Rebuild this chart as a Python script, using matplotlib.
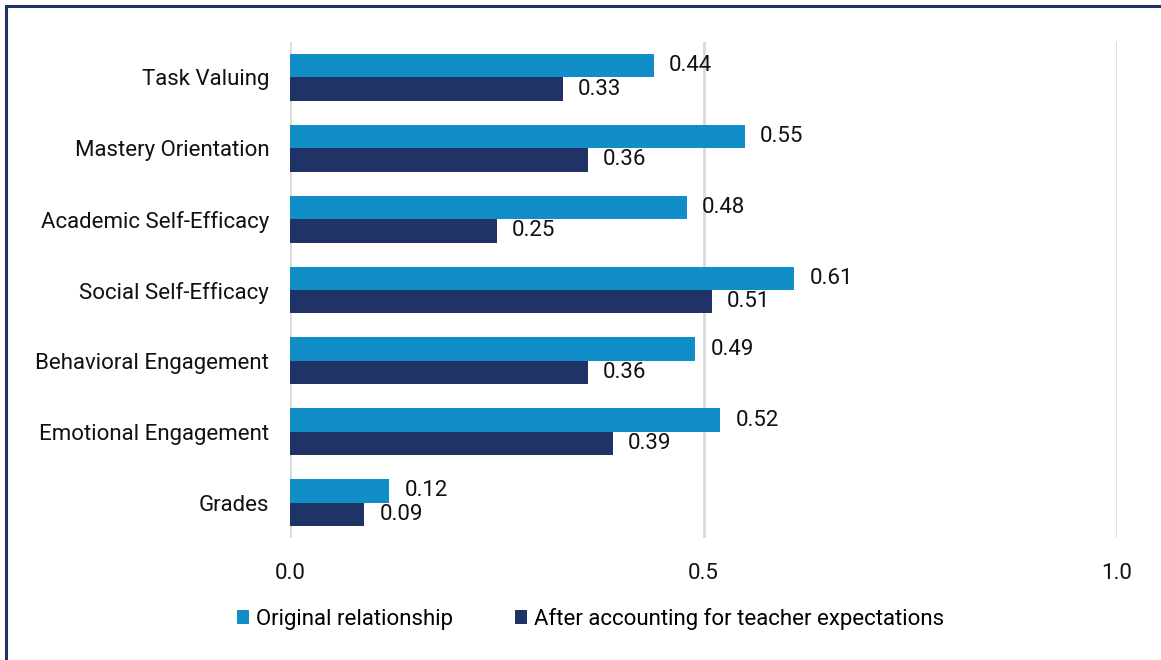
import numpy as np
import matplotlib.pyplot as plt
from matplotlib.patches import Rectangle

plt.rcParams['font.family'] = ['Roboto', 'DejaVu Sans']

categories = ["Task Valuing", "Mastery Orientation", "Academic Self-Efficacy",
              "Social Self-Efficacy", "Behavioral Engagement",
              "Emotional Engagement", "Grades"]
original = [0.44, 0.55, 0.48, 0.61, 0.49, 0.52, 0.12]
adjusted = [0.33, 0.36, 0.25, 0.51, 0.36, 0.39, 0.09]
series_names = ["Original relationship", "After accounting for teacher expectations"]
colors = ["#118DC8", "#1F3366"]

fs = 16
fig = plt.figure(figsize=(11.61, 6.6), dpi=100)
ax = fig.add_axes([290 / 1161, 1 - 538 / 660, (1117 - 290) / 1161, (538 - 42) / 660])

y = np.arange(len(categories))
h = 0.33
ax.barh(y - h / 2, original, height=h, color=colors[0], label=series_names[0], zorder=3)
ax.barh(y + h / 2, adjusted, height=h, color=colors[1], label=series_names[1], zorder=3)

for yi, v in zip(y, original):
    ax.annotate(f"{v:.2f}", (v, yi - h / 2), xytext=(11, 0), textcoords="offset points",
                va="center", ha="left", fontsize=fs, color="#111111")
for yi, v in zip(y, adjusted):
    ax.annotate(f"{v:.2f}", (v, yi + h / 2), xytext=(11, 0), textcoords="offset points",
                va="center", ha="left", fontsize=fs, color="#111111")

ax.set_xlim(0, 1.0)
ax.set_ylim(len(categories) - 0.5, -0.5)
ax.set_yticks(y)
ax.set_yticklabels(categories, fontsize=fs, color="#111111")
ax.set_xticks([0, 0.5, 1.0])
ax.set_xticklabels(["0.0", "0.5", "1.0"], fontsize=fs, color="#111111")
ax.tick_params(axis="x", length=0, pad=18)
ax.tick_params(axis="y", length=0, pad=15)
ax.xaxis.grid(True, color="#D9D9D9", linewidth=2, zorder=0)
for s in ax.spines.values():
    s.set_visible(False)

fig.legend(loc="center", bbox_to_anchor=(0.5 + 10 / 1161, 1 - 619 / 660), ncol=2,
           frameon=False, fontsize=fs, handlelength=0.55, handleheight=0.55,
           handletextpad=0.3, columnspacing=2.8)

# border (top and left visible)
fig.add_artist(Rectangle((6 / 1161, -0.1), 1.2, 1 - 6 / 660 + 0.1, transform=fig.transFigure,
                         fill=False, edgecolor="#1F3366", linewidth=2.2))

fig.savefig("out.png", dpi=100)
